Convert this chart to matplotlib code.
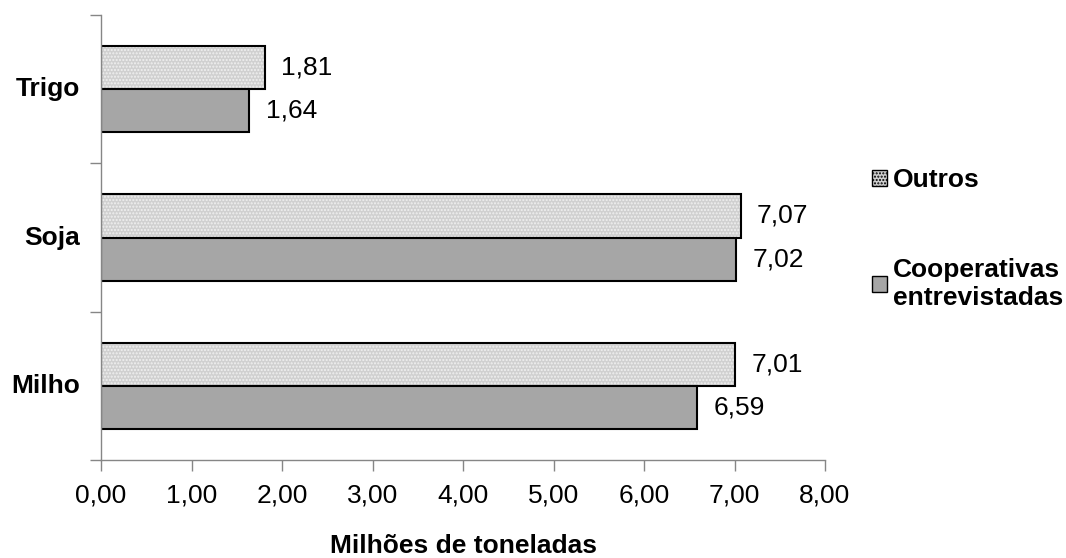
import matplotlib
matplotlib.use("Agg")
import matplotlib.pyplot as plt
import numpy as np
from matplotlib.patches import Patch

plt.rcParams['font.family'] = ['Liberation Sans', 'DejaVu Sans']
plt.rcParams['hatch.linewidth'] = 1.0

categories = ["Milho", "Soja", "Trigo"]
outros = [7.01, 7.07, 1.81]
cooperativas = [6.59, 7.02, 1.64]
xticks = [0, 1, 2, 3, 4, 5, 6, 7, 8]
series_names = ["Outros", "Cooperativas\nentrevistadas"]

fs = 19

fig = plt.figure(figsize=(10.66, 5.58), dpi=100)
ax = fig.add_axes([101/1066, 1-460/558, (825-101)/1066, (460-15)/558])

y = np.arange(len(categories))
h = 0.29
c_out = '#d0d0d0'
c_coop = '#a6a6a6'

ax.barh(y + h/2, outros, height=h, color=c_out, edgecolor='#f0f0f0', hatch='.....', linewidth=0)
ax.barh(y + h/2, outros, height=h, facecolor='none', edgecolor='black', linewidth=1.5)
ax.barh(y - h/2, cooperativas, height=h, color=c_coop, edgecolor='black', linewidth=1.5)

for yi, v in zip(y, outros):
    ax.text(v + 0.18, yi + h/2, f"{v:.2f}".replace('.', ','), va='center', ha='left', fontsize=fs)
for yi, v in zip(y, cooperativas):
    ax.text(v + 0.18, yi - h/2, f"{v:.2f}".replace('.', ','), va='center', ha='left', fontsize=fs)

ax.set_xlim(0, 8)
ax.set_ylim(-0.5, 2.5)
ax.set_xticks(xticks)
ax.set_xticklabels([f"{t:.2f}".replace('.', ',') for t in xticks], fontsize=fs)
ax.set_yticks([-0.5, 0.5, 1.5, 2.5])
ax.set_yticklabels([])
for yi, c in zip(y, categories):
    ax.text(-0.23, yi, c, ha='right', va='center', fontsize=fs, fontweight='bold')

for s in ['top', 'right']:
    ax.spines[s].set_visible(False)
for s in ['left', 'bottom']:
    ax.spines[s].set_color('#868686')
    ax.spines[s].set_linewidth(1)
ax.tick_params(axis='both', direction='out', length=8, color='#868686', width=1)
ax.tick_params(axis='x', pad=9)

fig.text(463/1066, 1-546/558, "Milhões de toneladas", ha='center', va='center',
         fontsize=fs, fontweight='bold')

handles = [Patch(facecolor=c_out, edgecolor='black', hatch='.....', linewidth=1),
           Patch(facecolor=c_coop, edgecolor='black', linewidth=1)]
fig.legend(handles, series_names, loc='center left', bbox_to_anchor=(872/1066, 1-239/558),
           frameon=False, prop={'size': fs, 'weight': 'bold'}, handlelength=0.58, handleheight=0.58,
           handletextpad=0.2, labelspacing=2.5, borderpad=0, borderaxespad=0)

fig.savefig("out.png", dpi=100)
